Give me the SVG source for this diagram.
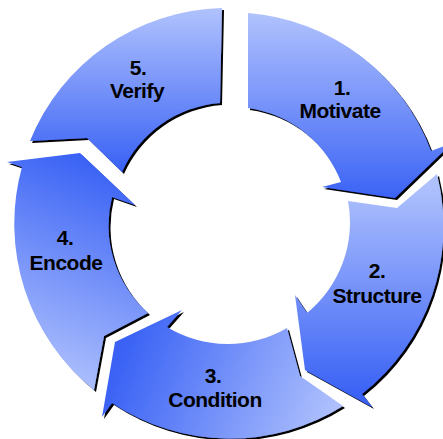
<svg xmlns="http://www.w3.org/2000/svg" width="443" height="439" viewBox="0 0 443 439">
  <defs>
    <filter id="sh" x="-10%" y="-10%" width="125%" height="125%">
      <feOffset in="SourceAlpha" dx="2" dy="2" result="o"/>
      <feGaussianBlur in="o" stdDeviation="0.6" result="b"/>
      <feMerge><feMergeNode in="b"/><feMergeNode in="SourceGraphic"/></feMerge>
    </filter>
    <linearGradient id="g1" gradientUnits="userSpaceOnUse" x1="0" y1="15" x2="0" y2="200">
      <stop offset="0" stop-color="#afc1fd"/><stop offset="1" stop-color="#3a62f5"/>
    </linearGradient>
    <linearGradient id="g2" gradientUnits="userSpaceOnUse" x1="0" y1="185" x2="0" y2="395">
      <stop offset="0" stop-color="#afc1fd"/><stop offset="1" stop-color="#3a62f5"/>
    </linearGradient>
    <linearGradient id="g3" gradientUnits="userSpaceOnUse" x1="125" y1="345" x2="330" y2="425">
      <stop offset="0" stop-color="#3a62f5"/><stop offset="1" stop-color="#afc1fd"/>
    </linearGradient>
    <linearGradient id="g4" gradientUnits="userSpaceOnUse" x1="125" y1="175" x2="40" y2="375">
      <stop offset="0" stop-color="#3a62f5"/><stop offset="1" stop-color="#afc1fd"/>
    </linearGradient>
    <linearGradient id="g5" gradientUnits="userSpaceOnUse" x1="0" y1="10" x2="0" y2="170">
      <stop offset="0" stop-color="#afc1fd"/><stop offset="1" stop-color="#3a62f5"/>
    </linearGradient>
  </defs>
  <style>
    .seg { filter: url(#sh); }
    .lbl { font-family: "Liberation Sans", Arial, sans-serif; font-weight: bold; font-size: 21px; letter-spacing: -0.5px; fill: #000; text-anchor: middle; }
  </style>
  <g id="connectors"></g>
  <g id="step5">
    <path class="seg" fill="url(#g5)" d="M 30,141 A 213 213 0 0 1 222,8 L 220,103 A 117 117 0 0 0 122,172 L 87,138 Z"/>
    <text class="lbl" x="138" y="75">5.</text>
    <text class="lbl" x="137" y="98">Verify</text>
  </g>
  <g id="step1">
    <path class="seg" fill="url(#g1)" d="M 248,13 A 213 213 0 0 1 431,151 L 452,143 L 395,198 L 322,187 L 341,182 A 117 117 0 0 0 248,108 Z"/>
    <text class="lbl" x="342" y="95">1.</text>
    <text class="lbl" x="340" y="118">Motivate</text>
  </g>
  <g id="step2">
    <path class="seg" fill="url(#g2)" d="M 437,174 A 213 213 0 0 1 362,394 L 372,407 L 305,370 L 295,295 L 307,313 A 117 117 0 0 0 348,201 L 397,208 Z"/>
    <text class="lbl" x="377" y="278">2.</text>
    <text class="lbl" x="377" y="303">Structure</text>
  </g>
  <g id="step3">
    <path class="seg" fill="url(#g3)" d="M 343,406 A 213 213 0 0 1 112,403 L 102,417 L 115,342 L 182,310 L 167,327 A 117 117 0 0 0 287,328 L 300,376 Z"/>
    <text class="lbl" x="213" y="383">3.</text>
    <text class="lbl" x="215" y="407">Condition</text>
  </g>
  <g id="step4">
    <path class="seg" fill="url(#g4)" d="M 94,390 A 213 213 0 0 1 22,167 L 7,162 L 80,153 L 135,205 L 112,197 A 117 117 0 0 0 148,313 L 104,336 Z"/>
    <text class="lbl" x="65" y="245">4.</text>
    <text class="lbl" x="66" y="270">Encode</text>
  </g>
</svg>
